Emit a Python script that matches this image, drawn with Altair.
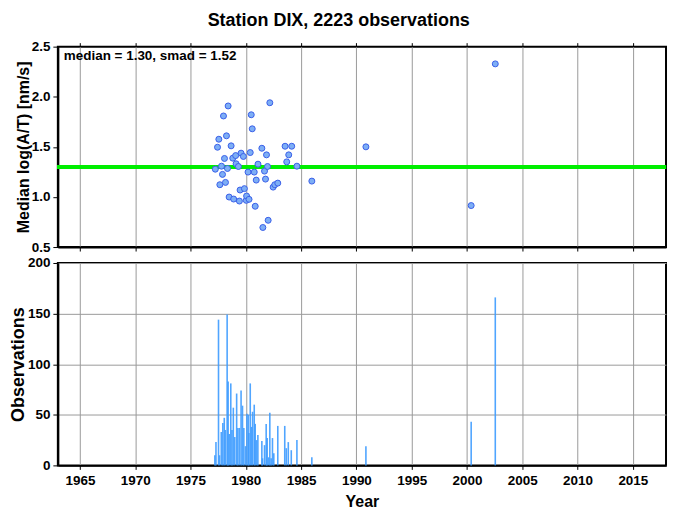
import altair as alt
import pandas as pd

# Median log(A/T) per period (top panel)
pt_year = [1977.24, 1977.44, 1977.56, 1977.65, 1977.80, 1977.89, 1977.98, 1978.07, 1978.16,
           1978.25, 1978.34, 1978.40, 1978.49, 1978.67, 1978.82, 1978.90, 1979.08, 1979.12,
           1979.33, 1979.42, 1979.48, 1979.57, 1979.78, 1979.87, 1980.04, 1980.07, 1980.20,
           1980.29, 1980.40, 1980.49, 1980.58, 1980.76, 1980.85, 1980.94, 1981.10, 1981.45,
           1981.54, 1981.69, 1981.78, 1981.87, 1981.96, 1982.02, 1982.17, 1982.47, 1982.62,
           1982.89, 1983.55, 1983.70, 1983.88, 1984.15, 1984.62, 1985.97, 1990.86, 2000.38,
           2002.56]
pt_value = [1.277, 1.496, 1.576, 1.122, 1.307, 1.225, 1.808, 1.384, 1.145,
            1.610, 1.284, 1.908, 0.999, 1.510, 1.387, 0.979, 1.413, 1.331,
            1.304, 0.959, 1.069, 1.437, 1.404, 1.083, 0.966, 1.009, 1.248,
            0.976, 1.443, 1.820, 1.680, 1.248, 0.907, 1.168, 1.327, 1.486,
            0.695, 1.258, 1.178, 1.420, 1.304, 0.767, 1.940, 1.098, 1.122,
            1.138, 1.506, 1.350, 1.420, 1.506, 1.307, 1.158, 1.500, 0.914,
            2.328]

median_value = 1.30
annotation = ["median = 1.30, smad = 1.52"]

# Observation counts (bottom panel)
bar_year = [1977.20, 1977.30, 1977.53, 1977.62, 1977.78, 1977.92, 1978.05, 1978.15, 1978.31,
            1978.40, 1978.50, 1978.64, 1978.75, 1978.87, 1979.00, 1979.17, 1979.28, 1979.42,
            1979.57, 1979.70, 1979.82, 1979.97, 1980.10, 1980.22, 1980.28, 1980.40, 1980.52,
            1980.61, 1980.76, 1980.85, 1980.97, 1981.09, 1981.45, 1981.51, 1981.69, 1981.84,
            1981.93, 1982.05, 1982.17, 1982.29, 1982.41, 1982.53, 1982.89, 1983.52, 1983.66,
            1983.84, 1984.11, 1984.62, 1985.97, 1990.86, 2000.38, 2002.56]
bar_count = [10, 23, 144, 10, 33, 42, 47, 35, 149,
             83, 31, 81, 35, 57, 28, 71, 37, 37,
             74, 59, 37, 19, 51, 50, 32, 81, 38,
             53, 60, 41, 25, 30, 24, 7, 20, 41,
             27, 8, 52, 7, 27, 12, 39, 39, 17,
             23, 15, 25, 8, 19, 43, 166]

x_ticks = [1965, 1970, 1975, 1980, 1985, 1990, 1995, 2000, 2005, 2010, 2015]
top_ticks = [0.5, 1.0, 1.5, 2.0, 2.5]
bot_ticks = [0, 50, 100, 150, 200]

pts = pd.DataFrame({"year": pt_year, "value": pt_value})
bars = pd.DataFrame({"year": bar_year, "count": bar_count})
ann = pd.DataFrame({"label": annotation})

FONT = "Liberation Sans"
W = 610
xscale = alt.Scale(domain=[1963, 2018], nice=False, zero=False)
yscale_top = alt.Scale(domain=[0.5, 2.5], nice=False, zero=False)

y_axis_kw = dict(tickSize=5, labelPadding=3, titlePadding=0)

rule = alt.Chart(pts).mark_rule(color="#00EE00", strokeWidth=4).encode(
    y=alt.datum(median_value, scale=yscale_top)
)
points = alt.Chart(pts).mark_point(
    filled=True, fill="#7DAEF5", stroke="#3A5FE8", strokeWidth=1, size=36, opacity=1,
    fillOpacity=1, shape="circle"
).encode(
    x=alt.X("year:Q", scale=xscale,
            axis=alt.Axis(values=x_ticks, labels=False, title=None, tickSize=4)),
    y=alt.Y("value:Q", scale=yscale_top,
            axis=alt.Axis(values=top_ticks, format=".1f",
                          title="Median log(A/T) [nm/s]", **y_axis_kw)),
)
top_ticks_layer = alt.Chart(pts).mark_point(opacity=0).encode(
    x=alt.X("year:Q", scale=xscale,
            axis=alt.Axis(values=x_ticks, orient="top", labels=False, title=None,
                          grid=False, domain=False, tickSize=4)),
    y=alt.Y("value:Q", scale=yscale_top),
)
label = alt.Chart(ann).mark_text(
    align="left", baseline="top", font=FONT, fontWeight="bold", fontSize=13.5, color="black"
).encode(x=alt.value(6), y=alt.value(2), text="label:N")

top = alt.layer(rule, points, top_ticks_layer, label).resolve_axis(
    x="independent").properties(width=W, height=201)

bar_layer = alt.Chart(bars).mark_rule(color="#3D9BFF", strokeWidth=1.6, opacity=0.9).encode(
    x=alt.X("year:Q", scale=xscale,
            axis=alt.Axis(values=x_ticks, format="d", title="Year", titlePadding=7,
                          tickSize=4, labelPadding=4)),
    y=alt.Y("count:Q", scale=alt.Scale(domain=[0, 200], nice=False),
            axis=alt.Axis(values=bot_ticks, title="Observations", titleFontSize=18,
                          **y_axis_kw)),
    y2=alt.datum(0),
)
bottom = alt.layer(bar_layer).properties(width=W, height=203)

chart = alt.vconcat(top, bottom, spacing=0).properties(
    title=alt.TitleParams("Station DIX, 2223 observations", font=FONT, fontSize=18,
                          fontWeight="bold", anchor="middle", offset=9, color="black"),
    padding={"left": 0, "top": 3, "right": 0, "bottom": 0},
).configure_view(stroke="black", strokeWidth=2).configure_axis(
    labelFont=FONT, labelFontSize=13.5, labelFontWeight="bold", labelColor="black",
    titleFont=FONT, titleFontSize=16, titleFontWeight="bold", titleColor="black",
    gridColor="#9a9a9a", gridWidth=1, gridOpacity=1,
    domainColor="black", domainWidth=2, tickColor="black", tickWidth=1,
)

chart.save("out.html", embed_options={"renderer": "svg", "actions": False})
